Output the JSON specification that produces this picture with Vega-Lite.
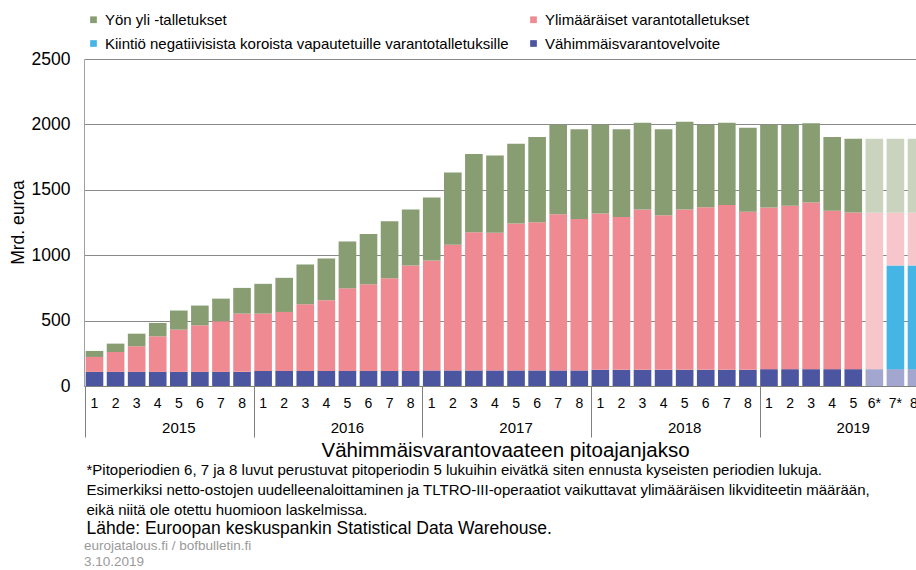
{
  "$schema": "https://vega.github.io/schema/vega-lite/v6.json",
  "width": 832,
  "height": 327,
  "autosize": {"type": "none"},
  "padding": {"left": 84, "top": 59, "right": 0, "bottom": 184},
  "background": "white",
  "config": {
    "font": "Liberation Sans",
    "view": {"stroke": null}
  },
  "title": {
    "text": ["eurojatalous.fi / bofbulletin.fi", "3.10.2019"],
    "orient": "bottom",
    "anchor": "start",
    "frame": "group",
    "fontSize": 13.5,
    "fontWeight": "normal",
    "color": "#9a9a9a",
    "lineHeight": 16,
    "offset": 2
  },
  "datasets": {
    "sarjat": [
      {"sarja": "vmv", "nimi": "Vähimmäisvarantovelvoite", "jarj": 1},
      {"sarja": "kiintio", "nimi": "Kiintiö negatiivisista koroista vapautetuille varantotalletuksille", "jarj": 2},
      {"sarja": "ylim", "nimi": "Ylimääräiset varantotalletukset", "jarj": 3},
      {"sarja": "yon", "nimi": "Yön yli -talletukset", "jarj": 4}
    ],
    "palkit": [
      {"avain": "2015|1", "vmv": 108, "kiintio": 0, "ylim": 114, "yon": 46, "ennuste": false},
      {"avain": "2015|2", "vmv": 108, "kiintio": 0, "ylim": 152, "yon": 64, "ennuste": false},
      {"avain": "2015|3", "vmv": 108, "kiintio": 0, "ylim": 196, "yon": 96, "ennuste": false},
      {"avain": "2015|4", "vmv": 108, "kiintio": 0, "ylim": 272, "yon": 102, "ennuste": false},
      {"avain": "2015|5", "vmv": 108, "kiintio": 0, "ylim": 323, "yon": 146, "ennuste": false},
      {"avain": "2015|6", "vmv": 108, "kiintio": 0, "ylim": 356, "yon": 151, "ennuste": false},
      {"avain": "2015|7", "vmv": 108, "kiintio": 0, "ylim": 387, "yon": 173, "ennuste": false},
      {"avain": "2015|8", "vmv": 108, "kiintio": 0, "ylim": 446, "yon": 196, "ennuste": false},
      {"avain": "2016|1", "vmv": 115, "kiintio": 0, "ylim": 439, "yon": 227, "ennuste": false},
      {"avain": "2016|2", "vmv": 115, "kiintio": 0, "ylim": 451, "yon": 261, "ennuste": false},
      {"avain": "2016|3", "vmv": 115, "kiintio": 0, "ylim": 510, "yon": 304, "ennuste": false},
      {"avain": "2016|4", "vmv": 115, "kiintio": 0, "ylim": 541, "yon": 319, "ennuste": false},
      {"avain": "2016|5", "vmv": 115, "kiintio": 0, "ylim": 632, "yon": 358, "ennuste": false},
      {"avain": "2016|6", "vmv": 115, "kiintio": 0, "ylim": 663, "yon": 385, "ennuste": false},
      {"avain": "2016|7", "vmv": 115, "kiintio": 0, "ylim": 709, "yon": 436, "ennuste": false},
      {"avain": "2016|8", "vmv": 115, "kiintio": 0, "ylim": 806, "yon": 428, "ennuste": false},
      {"avain": "2017|1", "vmv": 119, "kiintio": 0, "ylim": 840, "yon": 482, "ennuste": false},
      {"avain": "2017|2", "vmv": 119, "kiintio": 0, "ylim": 960, "yon": 554, "ennuste": false},
      {"avain": "2017|3", "vmv": 119, "kiintio": 0, "ylim": 1057, "yon": 597, "ennuste": false},
      {"avain": "2017|4", "vmv": 119, "kiintio": 0, "ylim": 1052, "yon": 592, "ennuste": false},
      {"avain": "2017|5", "vmv": 119, "kiintio": 0, "ylim": 1123, "yon": 610, "ennuste": false},
      {"avain": "2017|6", "vmv": 119, "kiintio": 0, "ylim": 1133, "yon": 651, "ennuste": false},
      {"avain": "2017|7", "vmv": 119, "kiintio": 0, "ylim": 1195, "yon": 683, "ennuste": false},
      {"avain": "2017|8", "vmv": 119, "kiintio": 0, "ylim": 1157, "yon": 686, "ennuste": false},
      {"avain": "2018|1", "vmv": 124, "kiintio": 0, "ylim": 1195, "yon": 678, "ennuste": false},
      {"avain": "2018|2", "vmv": 124, "kiintio": 0, "ylim": 1169, "yon": 669, "ennuste": false},
      {"avain": "2018|3", "vmv": 124, "kiintio": 0, "ylim": 1225, "yon": 664, "ennuste": false},
      {"avain": "2018|4", "vmv": 124, "kiintio": 0, "ylim": 1182, "yon": 656, "ennuste": false},
      {"avain": "2018|5", "vmv": 124, "kiintio": 0, "ylim": 1225, "yon": 671, "ennuste": false},
      {"avain": "2018|6", "vmv": 124, "kiintio": 0, "ylim": 1243, "yon": 630, "ennuste": false},
      {"avain": "2018|7", "vmv": 124, "kiintio": 0, "ylim": 1259, "yon": 630, "ennuste": false},
      {"avain": "2018|8", "vmv": 124, "kiintio": 0, "ylim": 1208, "yon": 642, "ennuste": false},
      {"avain": "2019|1", "vmv": 129, "kiintio": 0, "ylim": 1236, "yon": 632, "ennuste": false},
      {"avain": "2019|2", "vmv": 129, "kiintio": 0, "ylim": 1249, "yon": 619, "ennuste": false},
      {"avain": "2019|3", "vmv": 129, "kiintio": 0, "ylim": 1274, "yon": 605, "ennuste": false},
      {"avain": "2019|4", "vmv": 129, "kiintio": 0, "ylim": 1210, "yon": 564, "ennuste": false},
      {"avain": "2019|5", "vmv": 129, "kiintio": 0, "ylim": 1198, "yon": 563, "ennuste": false},
      {"avain": "2019|6*", "vmv": 129, "kiintio": 0, "ylim": 1195, "yon": 566, "ennuste": true},
      {"avain": "2019|7*", "vmv": 129, "kiintio": 792, "ylim": 403, "yon": 566, "ennuste": true},
      {"avain": "2019|8*", "vmv": 129, "kiintio": 792, "ylim": 403, "yon": 566, "ennuste": true}
    ]
  },
  "data": {"name": "palkit"},
  "transform": [
    {"fold": ["vmv", "kiintio", "ylim", "yon"], "as": ["sarja", "arvo"]},
    {"lookup": "sarja", "from": {"data": {"name": "sarjat"}, "key": "sarja", "fields": ["nimi", "jarj"]}}
  ],
  "layer": [
    {
      "mark": {"type": "bar"},
      "encoding": {
        "x": {
          "field": "avain",
          "type": "nominal",
          "sort": null,
          "scale": {"range": [0, 843], "paddingInner": 0.164, "paddingOuter": 0.08},
          "axis": {
            "title": "Vähimmäisvarantovaateen pitoajanjakso",
            "labelExpr": "split(datum.value, '|')[1]",
            "labelAngle": 0,
            "ticks": false,
            "tickSize": 0,
            "labelPadding": 17,
            "labelBaseline": "middle",
            "labelFontSize": 14,
            "labelColor": "#000000",
            "labelOverlap": false,
            "labelBound": false,
            "labelFlush": false,
            "domainColor": "#808080",
            "grid": false,
            "titleX": 421,
            "titleY": 64,
            "titleAlign": "center",
            "titleBaseline": "middle",
            "titleFontSize": 20.5,
            "titleFontWeight": "normal",
            "titleColor": "#000000"
          }
        },
        "y": {
          "field": "arvo",
          "type": "quantitative",
          "stack": "zero",
          "scale": {"domain": [0, 2500], "nice": false},
          "axis": {
            "values": [0, 500, 1000, 1500, 2000, 2500],
            "format": "d",
            "title": "Mrd. euroa",
            "grid": true,
            "gridColor": "#8a8a8a",
            "ticks": false,
            "labelPadding": 14,
            "labelFontSize": 17.5,
            "labelColor": "#000000",
            "labelFlush": false,
            "domainColor": "#a0a0a0",
            "titleX": -66,
            "titleY": 163,
            "titleAngle": -90,
            "titleAlign": "center",
            "titleBaseline": "middle",
            "titleFontSize": 17.5,
            "titleFontWeight": "normal",
            "titleColor": "#000000"
          }
        },
        "order": {"field": "jarj", "type": "quantitative", "sort": "ascending"},
        "color": {
          "condition": [
            {"test": "datum.ennuste && datum.sarja == 'yon'", "value": "#c9d3be"},
            {"test": "datum.ennuste && datum.sarja == 'ylim'", "value": "#f6c6ca"},
            {"test": "datum.ennuste && datum.sarja == 'vmv'", "value": "#a3a7cf"}
          ],
          "field": "nimi",
          "type": "nominal",
          "scale": {
            "domain": [
              "Yön yli -talletukset",
              "Kiintiö negatiivisista koroista vapautetuille varantotalletuksille",
              "Ylimääräiset varantotalletukset",
              "Vähimmäisvarantovelvoite"
            ],
            "range": ["#889e72", "#45b5e6", "#ef8a92", "#4b55a0"]
          },
          "legend": {
            "orient": "none",
            "legendX": 2,
            "legendY": -47,
            "columns": 2,
            "title": null,
            "symbolType": "square",
            "symbolSize": 45,
            "symbolStrokeWidth": 0,
            "labelFontSize": 15,
            "labelColor": "#000000",
            "labelOffset": 4,
            "labelLimit": 600,
            "rowPadding": 8,
            "columnPadding": 17,
            "padding": 0
          }
        }
      }
    },
    {
      "mark": {"type": "point", "opacity": 0},
      "encoding": {
        "x": {
          "field": "avain",
          "type": "nominal",
          "sort": null,
          "scale": {"range": [0, 843], "paddingInner": 0.164, "paddingOuter": 0.08},
          "axis": {
            "orient": "bottom",
            "title": [
              "*Pitoperiodien 6, 7 ja 8 luvut perustuvat pitoperiodin 5 lukuihin eivätkä siten ennusta kyseisten periodien lukuja.",
              "Esimerkiksi netto-ostojen uudelleenaloittaminen ja TLTRO-III-operaatiot vaikuttavat ylimääräisen likviditeetin määrään,",
              "eikä niitä ole otettu huomioon laskelmissa."
            ],
            "labelExpr": "split(datum.value, '|')[1] == '5' ? split(datum.value, '|')[0] : ''",
            "labelAngle": 0,
            "bandPosition": 0,
            "ticks": true,
            "tickSize": 51,
            "tickColor": "#808080",
            "tickOpacity": {"condition": {"test": "split(datum.value, '|')[1] == '1'", "value": 1}, "value": 0},
            "domain": false,
            "grid": false,
            "labelPadding": -10,
            "labelBaseline": "middle",
            "labelFontSize": 15,
            "labelColor": "#000000",
            "labelOverlap": false,
            "labelBound": false,
            "labelFlush": false,
            "titleX": 2,
            "titleY": 76,
            "titleAlign": "left",
            "titleAnchor": "start",
            "titleBaseline": "top",
            "titleAngle": 0,
            "titleFontSize": 15,
            "titleLineHeight": 20,
            "titleFontWeight": "normal",
            "titleColor": "#000000"
          }
        },
        "y": {
          "field": "arvo",
          "type": "quantitative",
          "stack": null,
          "scale": {"domain": [0, 2500], "nice": false},
          "axis": {
            "orient": "right",
            "title": "Lähde: Euroopan keskuspankin  Statistical Data Warehouse.",
            "labels": false,
            "ticks": false,
            "domain": false,
            "grid": false,
            "titleX": -830,
            "titleY": 469,
            "titleAngle": 0,
            "titleAlign": "left",
            "titleBaseline": "middle",
            "titleFontSize": 17.5,
            "titleFontWeight": "normal",
            "titleColor": "#000000"
          }
        }
      }
    }
  ],
  "resolve": {"axis": {"x": "independent", "y": "independent"}}
}
